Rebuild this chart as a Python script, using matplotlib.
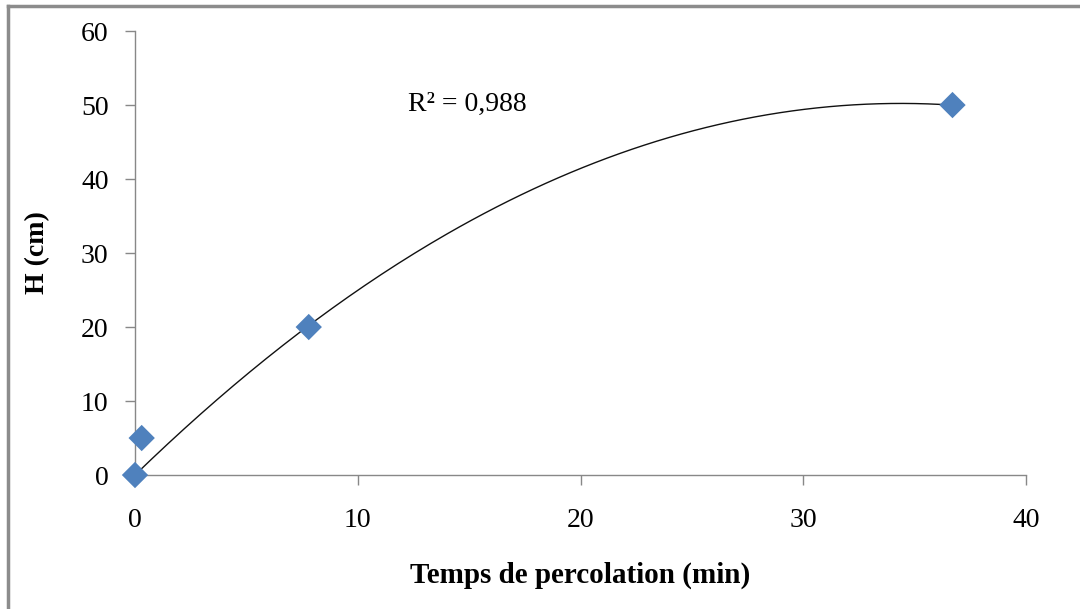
# H (cm) vs temps de percolation, with 2nd order polynomial trend line
import numpy as np
from matplotlib import pyplot as plt
from matplotlib.lines import Line2D

# data
temps = [0.0, 0.3, 7.8, 36.7]
hauteur = [0.0, 5.0, 20.0, 50.0]
x_ticks = [0, 10, 20, 30, 40]
y_ticks = [0, 10, 20, 30, 40, 50, 60]
r2_text = 'R² = 0,988'

plt.rcParams['font.family'] = ['Liberation Serif', 'DejaVu Serif']

fig = plt.figure(figsize=(10.8, 6.09), dpi=100)
ax = fig.add_axes([0.125, 0.22, 0.825, 0.729])

# trend line: polynomial order 2, intercept forced to 0 (as in the excel chart)
t = np.array(temps)
h = np.array(hauteur)
A = np.column_stack([t, t ** 2])
b, c = np.linalg.lstsq(A, h, rcond=None)[0]
xs = np.linspace(t.min(), t.max(), 200)
ax.plot(xs, b * xs + c * xs ** 2, color='#111111', lw=1.0, zorder=2)

ax.scatter(temps, hauteur, marker='D', s=180, color='#4F81BD', zorder=3,
           edgecolors='none', clip_on=False)

ax.text(12.25, 49.2, r2_text, fontsize=20, va='baseline', ha='left')

ax.set_xlim(0, 40)
ax.set_ylim(0, 60)
ax.set_xticks(x_ticks)
ax.set_yticks(y_ticks)
ax.tick_params(labelsize=20, color='#888888', length=7, width=1)
ax.tick_params(axis='x', pad=17)
ax.tick_params(axis='y', pad=12)
for s in ['top', 'right']:
    ax.spines[s].set_visible(False)
for s in ['left', 'bottom']:
    ax.spines[s].set_color('#888888')
    ax.spines[s].set_linewidth(1)

ax.set_xlabel('Temps de percolation (min)', fontsize=21, fontweight='bold')
ax.xaxis.set_label_coords(0.5, -0.196)
ax.set_ylabel('H (cm)', fontsize=20, fontweight='bold')
ax.yaxis.set_label_coords(-0.095, 0.5)

# outer frame (only left and top edges visible)
fig.add_artist(Line2D([8 / 1080, 8 / 1080], [0, 1 - 6 / 609], transform=fig.transFigure,
                      color='#8c8c8c', lw=2.5))
fig.add_artist(Line2D([8 / 1080, 1], [1 - 6 / 609, 1 - 6 / 609], transform=fig.transFigure,
                      color='#8c8c8c', lw=2.5))

fig.savefig('out.png', dpi=100)
